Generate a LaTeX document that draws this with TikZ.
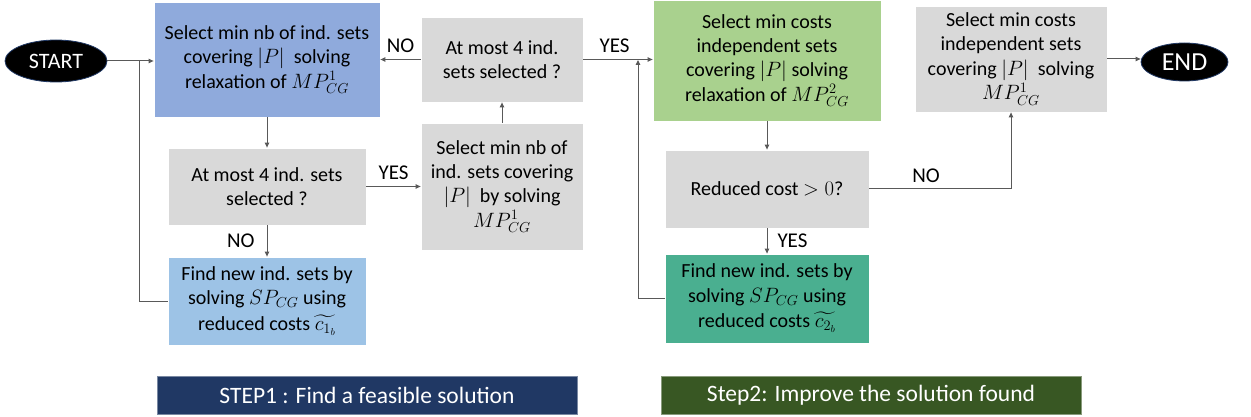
\documentclass[tikz,border=0pt]{standalone}
\usepackage{amsmath}
\usepackage{fontspec}
\setmainfont{Carlito}
\usetikzlibrary{arrows.meta,shapes.geometric}
\definecolor{bxblue}{HTML}{8FAADC}
\definecolor{bxlblue}{HTML}{9DC3E6}
\definecolor{bxgray}{HTML}{D9D9D9}
\definecolor{bxgreen}{HTML}{A9D18E}
\definecolor{bxteal}{HTML}{4AAF90}
\definecolor{bnavy}{HTML}{203864}
\definecolor{bdgreen}{HTML}{385723}
\definecolor{lncol}{HTML}{595959}
\tikzset{
  box/.style={fill=#1, draw=white, line width=0.8pt, align=center, inner sep=0pt,
    font=\fontsize{20}{24.4}\selectfont},
  term/.style={ellipse, fill=black, draw=bnavy, line width=0.8pt, text=white, inner sep=0pt},
  banner/.style={draw=#1!60!white, fill=#1, text=white, inner sep=0pt, line width=0.8pt,
    minimum width=420pt, minimum height=38pt, font=\fontsize{23.5}{26}\selectfont},
  conn/.style={draw=lncol, line width=1pt, -{Triangle[length=5pt,width=4.5pt]}},
  plainln/.style={draw=lncol, line width=1pt},
  lbl/.style={font=\fontsize{21}{24}\selectfont, inner sep=0pt}
}
\begin{document}
\begin{tikzpicture}[x=1pt,y=-1pt]
\useasboundingbox (0,0) rectangle (1251,417);
% terminals
\node[term, minimum width=102pt, minimum height=42pt, font=\fontsize{22}{26}\selectfont] (start) at (56,61) {START};
\node[term, minimum width=87pt, minimum height=38pt, font=\fontsize{26}{30}\selectfont] (end) at (1184.5,62) {END};
% step 1 boxes
\node[box=bxblue, minimum width=226pt, minimum height=115pt] (b1) at (267,59.5)
  {Select min nb of ind. sets\\ covering $|P|$~ solving\\ relaxation of $MP^1_{CG}$};
\node[box=bxgray, minimum width=198pt, minimum height=77pt] (b2) at (267,186.5)
  {At most 4 ind. sets\\ selected ?};
\node[box=bxlblue, minimum width=198pt, minimum height=88pt] (b3) at (267,301)
  {Find new ind. sets by\\ solving $SP_{CG}$ using\\[1pt] reduced costs $\widetilde{c_{1_b}}$};
\node[box=bxgray, minimum width=162pt, minimum height=85pt] (b4) at (502,59.5)
  {At most 4 ind.\\ sets selected ?};
\node[box=bxgray, minimum width=162pt, minimum height=127pt] (b5) at (502,186.5)
  {Select min nb of\\ ind. sets covering\\ $|P|$~ by solving\\ $MP^1_{CG}$};
% step 2 boxes
\node[box=bxgreen, minimum width=228pt, minimum height=121pt] (b6) at (767,60.5)
  {Select min costs\\ independent sets\\ covering $|P|$ solving\\ relaxation of $MP^2_{CG}$};
\node[box=bxgray, minimum width=204pt, minimum height=78pt] (b7) at (767,189)
  {Reduced cost $> 0$?};
\node[box=bxteal, minimum width=204pt, minimum height=89pt] (b8) at (767,298.5)
  {Find new ind. sets by\\ solving $SP_{CG}$ using\\[1pt] reduced costs $\widetilde{c_{2_b}}$};
\node[box=bxgray, minimum width=192pt, minimum height=106pt] (b9) at (1011,59)
  {Select min costs\\ independent sets\\ covering $|P|$~ solving\\ $MP^1_{CG}$};
% banners
\node[banner=bnavy] (s1) at (367,395) {STEP1 : Find a feasible solution};
\node[banner=bdgreen] (s2) at (871,395) {Step2: Improve the solution found};
% junctions
\coordinate (j1) at (139,61);
\coordinate (j2) at (638,60);
% connectors
\draw[conn] (start.east) -- (start.east -| b1.west);
\draw[plainln] (b3.west) -- (b3.west -| j1) -- (j1);
\draw[conn] (b1.south) -- (b2.north);
\draw[conn] (b2.south) -- node[lbl, left=12pt, pos=0.5] {NO} (b3.north);
\draw[conn] (b2.east) -- node[lbl, above=6pt] {YES} (b2.east -| b5.west);
\draw[conn] (b5.north) -- (b4.south);
\draw[conn] (b4.west) -- node[lbl, above=6pt] {NO} (b4.west -| b1.east);
\draw[conn] (b4.east) -- node[lbl, above=6pt, pos=0.45] {YES} (b4.east -| b6.west);
\draw[conn] (b8.west) -- (b8.west -| j2) -- (j2);
\draw[conn] (b6.south) -- (b7.north);
\draw[conn] (b7.south) -- node[lbl, right=10pt] {YES} (b8.north);
\draw[conn] (b7.east) -- node[lbl, above=6pt, pos=0.4] {NO} (b7.east -| b9.south) -- (b9.south);
\draw[conn] (b9.east) -- (b9.east -| end.west);
\end{tikzpicture}
\end{document}
